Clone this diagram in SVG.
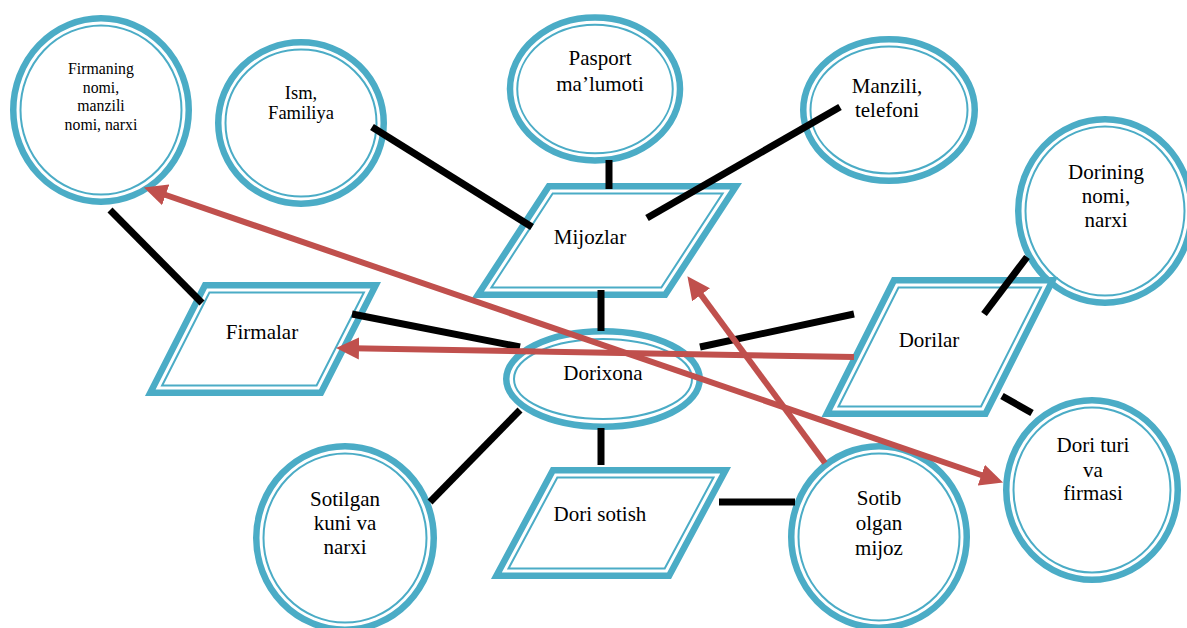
<svg xmlns="http://www.w3.org/2000/svg" width="1187" height="628" viewBox="0 0 1187 628">
<style>
.thick{fill:#fff;stroke:#4BACC6;stroke-width:6.5}
.thin{fill:none;stroke:#4BACC6;stroke-width:2}
text{font-family:'Liberation Serif','Times New Roman','DejaVu Serif',serif;font-size:21px;fill:#000;text-anchor:middle}
text.s16{font-size:15.8px}
text.s18{font-size:18.5px}
.c{stroke:#000;stroke-width:7;fill:none}
.r{stroke:#C0504D;stroke-width:6;fill:none}
</style>
<defs>
<marker id="ah" markerUnits="userSpaceOnUse" markerWidth="24" markerHeight="24" viewBox="0 0 24 24" refX="6" refY="12" orient="auto-start-reverse">
<path d="M0,1 L23,12 L0,23 z" fill="#C0504D"/>
</marker>
</defs>
<rect width="1187" height="628" fill="#fff"/>
<g id="firmaning">
<ellipse class="thick" cx="101" cy="110" rx="87.75" ry="91.75"/>
<ellipse class="thin" cx="101" cy="110" rx="80.5" ry="84.5"/>
<text class="s16"><tspan x="101" y="74">Firmaning</tspan><tspan x="101" y="92.5">nomi,</tspan><tspan x="101" y="111">manzili</tspan><tspan x="101" y="129.5">nomi, narxi</tspan></text>
</g>
<g id="ism">
<ellipse class="thick" cx="301" cy="123" rx="82.75" ry="80.75"/>
<ellipse class="thin" cx="301" cy="123" rx="75.5" ry="73.5"/>
<text class="s18"><tspan x="301" y="99">Ism,</tspan><tspan x="301" y="119">Familiya</tspan></text>
</g>
<g id="pasport">
<ellipse class="thick" cx="595" cy="89" rx="85" ry="71.5"/>
<ellipse class="thin" cx="595" cy="89" rx="77.75" ry="64.25"/>
<text><tspan x="600" y="65">Pasport</tspan><tspan x="600" y="90.5">ma’lumoti</tspan></text>
</g>
<g id="manzili">
<ellipse class="thick" cx="889" cy="110" rx="85.75" ry="70.75"/>
<ellipse class="thin" cx="889" cy="110" rx="78.5" ry="63.5"/>
<text><tspan x="887" y="93">Manzili,</tspan><tspan x="887" y="117">telefoni</tspan></text>
</g>
<g id="dorining">
<ellipse class="thick" cx="1105" cy="211" rx="86.75" ry="91.75"/>
<ellipse class="thin" cx="1105" cy="211" rx="79.5" ry="84.5"/>
<text><tspan x="1106" y="179">Dorining</tspan><tspan x="1106" y="203">nomi,</tspan><tspan x="1106" y="227">narxi</tspan></text>
</g>
<g id="dorituri">
<ellipse class="thick" cx="1092" cy="490" rx="85.75" ry="89.75"/>
<ellipse class="thin" cx="1092" cy="490" rx="78.5" ry="82.5"/>
<text><tspan x="1093" y="452">Dori turi</tspan><tspan x="1093" y="477">va</tspan><tspan x="1093" y="500">firmasi</tspan></text>
</g>
<g id="sotib">
<ellipse class="thick" cx="879" cy="537" rx="87.75" ry="90.75"/>
<ellipse class="thin" cx="879" cy="537" rx="80.5" ry="83.5"/>
<text><tspan x="879" y="505">Sotib</tspan><tspan x="879" y="530">olgan</tspan><tspan x="879" y="555">mijoz</tspan></text>
</g>
<g id="sotilgan">
<ellipse class="thick" cx="345" cy="538" rx="88.75" ry="91.75"/>
<ellipse class="thin" cx="345" cy="538" rx="81.5" ry="84.5"/>
<text><tspan x="345" y="506">Sotilgan</tspan><tspan x="345" y="530">kuni va</tspan><tspan x="345" y="554">narxi</tspan></text>
</g>
<g id="dorixona">
<ellipse class="thick" cx="603" cy="379" rx="96.75" ry="47.75"/>
<ellipse class="thin" cx="603" cy="379" rx="89" ry="40"/>
<text x="603" y="380">Dorixona</text>
</g>
<g id="mijozlar">
<polygon class="thick" points="548.8,186.25 736,186.25 665.2,294.75 478,294.75"/>
<polygon class="thin" points="552.7,193.5 722.6,193.5 661.3,287.5 491.4,287.5"/>
<text x="590" y="244">Mijozlar</text>
</g>
<g id="firmalar">
<polygon class="thick" points="205,285.25 375.7,285.25 321,392.75 150.3,392.75"/>
<polygon class="thin" points="209.4,292.5 363.9,292.5 316.6,385.5 162.1,385.5"/>
<text x="262" y="339">Firmalar</text>
</g>
<g id="dorilar">
<polygon class="thick" points="894,280.25 1052.7,280.25 985.5,413.75 826.8,413.75"/>
<polygon class="thin" points="898.5,287.5 1041,287.5 981,406.5 838.5,406.5"/>
<text x="929" y="347">Dorilar</text>
</g>
<g id="dorisotish">
<polygon class="thick" points="552.9,470.25 725.6,470.25 669.1,575.75 496.4,575.75"/>
<polygon class="thin" points="557.3,477.5 713.5,477.5 664.7,568.5 508.5,568.5"/>
<text x="600" y="521">Dori sotish</text>
</g>
<g id="connectors">
<line class="c" x1="372" y1="127" x2="532" y2="227"/>
<line class="c" x1="609" y1="160" x2="609" y2="189"/>
<line class="c" x1="840" y1="107" x2="647" y2="218"/>
<line class="c" x1="601" y1="290" x2="601" y2="331"/>
<line class="c" x1="110" y1="210" x2="202" y2="303"/>
<line class="c" x1="352" y1="314" x2="520" y2="347"/>
<line class="c" x1="700" y1="347" x2="854" y2="314"/>
<line class="c" x1="1027" y1="257" x2="984" y2="314"/>
<line class="c" x1="1002" y1="396" x2="1032" y2="413"/>
<line class="c" x1="601" y1="428" x2="601" y2="465"/>
<line class="c" x1="520" y1="410" x2="430" y2="502"/>
<line class="c" x1="719" y1="502" x2="795" y2="502"/>
<line class="r" x1="160" y1="193" x2="987" y2="477" marker-start="url(#ah)" marker-end="url(#ah)"/>
<line class="r" x1="854" y1="357" x2="353" y2="348.3" marker-end="url(#ah)"/>
<line class="r" x1="825" y1="463" x2="697.5" y2="290" marker-end="url(#ah)"/>
</g>
</svg>
